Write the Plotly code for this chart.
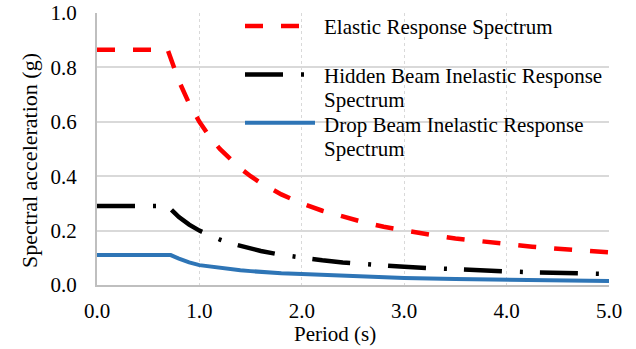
import plotly.graph_objects as go

# Response spectra: period (s) vs spectral acceleration (g)
elastic_T = [0.0, 0.2, 0.4, 0.6, 0.69, 0.8, 0.9, 1.0, 1.1, 1.2, 1.3, 1.4, 1.5, 1.6, 1.8,
             2.0, 2.2, 2.4, 2.6, 2.8, 3.0, 3.25, 3.5, 3.75, 4.0, 4.25, 4.5, 4.75, 5.0]
elastic_sa = [0.865, 0.865, 0.865, 0.865, 0.865, 0.75, 0.667, 0.60, 0.545, 0.50, 0.462, 0.429,
              0.40, 0.375, 0.333, 0.30, 0.273, 0.25, 0.231, 0.214, 0.20, 0.185, 0.171, 0.16,
              0.15, 0.141, 0.133, 0.126, 0.12]

hidden_T = [0.0, 0.2, 0.4, 0.6, 0.69, 0.8, 0.9, 1.0, 1.1, 1.2, 1.3, 1.4, 1.5, 1.6, 1.8,
            2.0, 2.2, 2.4, 2.6, 2.8, 3.0, 3.25, 3.5, 3.75, 4.0, 4.25, 4.5, 4.75, 5.0]
hidden_sa = [0.29, 0.29, 0.29, 0.29, 0.29, 0.25, 0.222, 0.20, 0.182, 0.167, 0.154, 0.143,
             0.133, 0.125, 0.111, 0.10, 0.091, 0.083, 0.077, 0.071, 0.067, 0.062, 0.057,
             0.053, 0.05, 0.047, 0.044, 0.042, 0.04]

drop_T = [0.0, 0.2, 0.4, 0.6, 0.72, 0.8, 0.9, 1.0, 1.2, 1.4, 1.5, 1.6, 1.8, 2.0, 2.5,
          3.0, 3.5, 4.0, 4.5, 5.0]
drop_sa = [0.11, 0.11, 0.11, 0.11, 0.11, 0.097, 0.083, 0.073, 0.062, 0.054, 0.051, 0.048,
           0.043, 0.040, 0.032, 0.026, 0.022, 0.019, 0.017, 0.015]

series_names = ["Elastic Response Spectrum",
                "Hidden Beam Inelastic Response Spectrum",
                "Drop Beam Inelastic Response Spectrum"]

x_ticks = [0, 1, 2, 3, 4, 5]
y_ticks = [0.0, 0.2, 0.4, 0.6, 0.8, 1.0]

x_title = "Period (s)"
y_title = "Spectral acceleration (g)"

FONT = "Liberation Serif, Times New Roman, serif"
W, H = 636, 349
ML, MR, MT, MB = 97, 27, 13, 64

RED_DASH = "18px,18px"
BLACK_DASHDOT = "38px,18px,3px,17px"
BLUE = "#2E75B6"

fig = go.Figure()
fig.add_trace(go.Scatter(x=elastic_T, y=elastic_sa, mode="lines", name=series_names[0],
                         line=dict(color="#FF0000", width=4.5, dash=RED_DASH)))
fig.add_trace(go.Scatter(x=hidden_T, y=hidden_sa, mode="lines", name=series_names[1],
                         line=dict(color="#000000", width=4.5, dash=BLACK_DASHDOT)))
fig.add_trace(go.Scatter(x=drop_T, y=drop_sa, mode="lines", name=series_names[2],
                         line=dict(color=BLUE, width=4)))

pw = W - ML - MR
ph = H - MT - MB


def px_x(x):
    return (x - ML) / pw


def px_y(y):
    return (H - MB - y) / ph


# Legend drawn inside the plot area, top right
legend_rows = [
    dict(y=26, x1=302, color="#FF0000", width=4.5, dash=RED_DASH,
         lines=[(series_names[0], 27)]),
    dict(y=74.5, x1=307, color="#000000", width=4.5, dash=BLACK_DASHDOT,
         lines=[("Hidden Beam Inelastic Response", 76), ("Spectrum", 99.5)]),
    dict(y=122.7, x1=315, color=BLUE, width=4, dash="solid",
         lines=[("Drop Beam Inelastic Response", 124.5), ("Spectrum", 148.5)]),
]
shapes = []
annotations = []
for row in legend_rows:
    shapes.append(dict(type="line", xref="paper", yref="paper",
                       x0=px_x(245), x1=px_x(row["x1"]), y0=px_y(row["y"]), y1=px_y(row["y"]),
                       line=dict(color=row["color"], width=row["width"], dash=row["dash"])))
    for text, yy in row["lines"]:
        annotations.append(dict(text=text, xref="paper", yref="paper", x=px_x(322),
                                y=px_y(yy), xanchor="left", yanchor="middle", showarrow=False,
                                font=dict(family=FONT, size=21, color="#000000")))

# Axis titles
annotations.append(dict(text=x_title, xref="paper", yref="paper", x=px_x(335), y=px_y(334),
                        xanchor="center", yanchor="middle", showarrow=False,
                        font=dict(family=FONT, size=21, color="#000000")))
annotations.append(dict(text=y_title, xref="paper", yref="paper", x=px_x(29), y=px_y(161),
                        xanchor="center", yanchor="middle", showarrow=False, textangle=-90,
                        font=dict(family=FONT, size=22, color="#000000")))

fig.update_layout(
    width=W, height=H,
    margin=dict(l=ML, r=MR, t=MT, b=MB, pad=0, autoexpand=False),
    paper_bgcolor="white", plot_bgcolor="white",
    showlegend=False,
    font=dict(family=FONT, size=21, color="#000000"),
    shapes=shapes,
    annotations=annotations,
)
fig.update_xaxes(
    range=[0, 5], tickvals=x_ticks, tickformat=".1f", automargin=False,
    showgrid=True, gridcolor="#D9D9D9", griddash="dot", gridwidth=1.3,
    showline=True, linecolor="#BFBFBF", linewidth=2,
    ticks="", ticklabelstandoff=6, zeroline=False,
)
fig.update_yaxes(
    range=[0, 1], tickvals=y_ticks, tickformat=".1f", automargin=False,
    showgrid=True, gridcolor="#D9D9D9", gridwidth=1.5,
    showline=True, linecolor="#BFBFBF", linewidth=2,
    ticks="", ticklabelstandoff=14, zeroline=False,
)

fig.write_html("out.html")
